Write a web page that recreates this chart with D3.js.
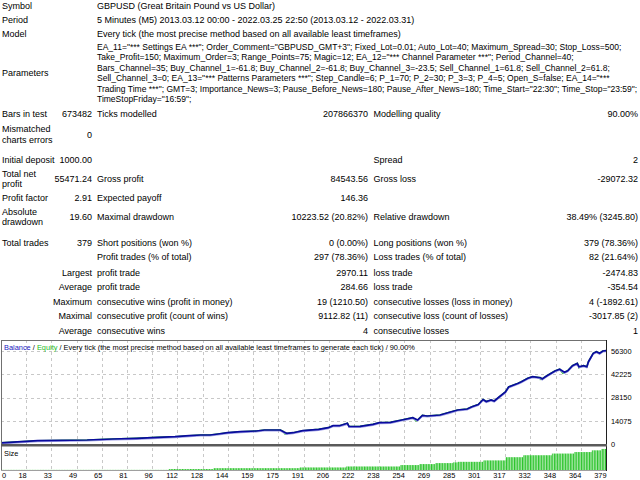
<!DOCTYPE html>
<html><head><meta charset="utf-8">
<script src="https://cdn.jsdelivr.net/npm/d3@7"></script>
<style>
html,body{margin:0;padding:0;background:#fff;}
svg{display:block;}
text{font-family:"Liberation Sans",Arial,sans-serif;fill:#000;}
</style></head><body>
<svg id="c" width="640" height="480"></svg>
<script>
// ---------- DATA ----------
const headerRows = [
  ["Symbol", "GBPUSD (Great Britain Pound vs US Dollar)"],
  ["Period", "5 Minutes (M5) 2013.03.12 00:00 - 2022.03.25 22:50 (2013.03.12 - 2022.03.31)"],
  ["Model", "Every tick (the most precise method based on all available least timeframes)"]
];
const paramLabel = "Parameters";
const paramLines = [
  'EA_11="*** Settings EA ***"; Order_Comment="GBPUSD_GMT+3"; Fixed_Lot=0.01; Auto_Lot=40; Maximum_Spread=30; Stop_Loss=500;',
  'Take_Profit=150; Maximum_Order=3; Range_Points=75; Magic=12; EA_12="*** Channel Parameter ***"; Period_Channel=40;',
  'Bars_Channel=35; Buy_Channel_1=-61.8; Buy_Channel_2=-61.8; Buy_Channel_3=-23.5; Sell_Channel_1=61.8; Sell_Channel_2=61.8;',
  'Sell_Channel_3=0; EA_13="*** Patterns Parameters ***"; Step_Candle=6; P_1=70; P_2=30; P_3=3; P_4=5; Open_S=false; EA_14="***',
  'Trading Time ***"; GMT=3; Importance_News=3; Pause_Before_News=180; Pause_After_News=180; Time_Start="22:30"; Time_Stop="23:59";',
  'TimeStopFriday="16:59";'
];
// [label, value, label2, value2, label3, value3]
const statRows = [
  ["Bars in test", "673482", "Ticks modelled", "207866370", "Modelling quality", "90.00%"],
  ["Mismatched|charts errors", "0", "", "", "", ""],
  ["Initial deposit", "1000.00", "", "", "Spread", "2"],
  ["Total net|profit", "55471.24", "Gross profit", "84543.56", "Gross loss", "-29072.32"],
  ["Profit factor", "2.91", "Expected payoff", "146.36", "", ""],
  ["Absolute|drawdown", "19.60", "Maximal drawdown", "10223.52 (20.82%)", "Relative drawdown", "38.49% (3245.80)"],
  ["Total trades", "379", "Short positions (won %)", "0 (0.00%)", "Long positions (won %)", "379 (78.36%)"],
  ["", "", "Profit trades (% of total)", "297 (78.36%)", "Loss trades (% of total)", "82 (21.64%)"],
  ["", "Largest", "profit trade", "2970.11", "loss trade", "-2474.83"],
  ["", "Average", "profit trade", "284.66", "loss trade", "-354.54"],
  ["", "Maximum", "consecutive wins (profit in money)", "19 (1210.50)", "consecutive losses (loss in money)", "4 (-1892.61)"],
  ["", "Maximal", "consecutive profit (count of wins)", "9112.82 (11)", "consecutive loss (count of losses)", "-3017.85 (2)"],
  ["", "Average", "consecutive wins", "4", "consecutive losses", "1"]
];
const chartTitle = ["Balance", " / ", "Equity", " / Every tick (the most precise method based on all available least timeframes to generate each tick) / 90.00%"];
const xTickLabels = ["0","18","33","49","65","81","96","112","128","144","159","175","191","206","222","238","254","269","285","301","317","332","348","364","379"];
const yTickValues = [0, 14075, 28150, 42225, 56300];
const totalTrades = 379;
// balance: [trade index, balance]
const balance = [
  [0,1000],[23,2290],[54,2710],[70,3310],[85,3730],[98,4330],[109,4700],[118,5300],[125,5720],
  [131,5720],[136,6320],[142,7100],[150,7700],[160,8130],[165,8730],[175,8730],[177,7700],[179,6740],
  [183,7100],[189,8310],[199,9150],[205,10110],[208,11320],[212,11320],[215,12160],[217,12760],[218,10840],
  [225,10960],[233,12160],[237,13120],[244,13370],[251,14750],[258,16140],[261,14750],[264,17580],[267,17160],
  [275,17760],[281,19390],[286,20770],[292,21370],[295,22760],[299,24080],[302,27090],[304,25890],[307,26790],
  [309,26190],[312,28600],[316,31610],[318,34620],[324,36850],[326,37810],[330,39860],[333,40820],[338,40220],
  [339,39440],[342,41420],[347,44250],[350,45280],[353,43470],[355,44430],[358,47440],[361,48890],[362,46840],
  [365,47440],[367,46840],[368,49850],[371,54910],[373,55870],[375,54910],[377,56300],[379,56471]
];
// equity lows visible below the balance line: [trade index, equity]
const equityDips = [
  [178,6300],[260,14300],[338,39300],[352,42900],[362,46300]
];
// lot size steps: [first trade, size]
const sizeSteps = [
  [0,0.01],[105,0.10],[133,0.18],[187,0.25],[216,0.35],[250,0.50],[262,0.60],[272,0.70],
  [283,0.77],[286,0.83],[302,0.97],[316,1.30],[327,1.50],[345,1.67],[359,1.83],[370,2.00],[376,2.15]
];

// ---------- DRAW ----------
const svg = d3.select("#c");
const FS = 9;

const colA = 2, colBend = 92, colC = 97, colDend = 368, colE = 373.5, colFend = 638;
const headerY = [6, 19.5, 33.5];
headerRows.forEach((r, i) => {
  svg.append("text").attr("x", colA).attr("y", headerY[i]).attr("dy", "0.35em").attr("font-size", FS).text(r[0]);
  svg.append("text").attr("x", colC).attr("y", headerY[i]).attr("dy", "0.35em").attr("font-size", FS).text(r[1]);
});
const paramY0 = 47, paramStep = 10.4;
svg.append("text").attr("x", colA).attr("y", paramY0 + paramStep * 2.5).attr("dy", "0.35em").attr("font-size", FS).text(paramLabel);
const pTexts = paramLines.map((l, i) =>
  svg.append("text").attr("x", colC).attr("y", paramY0 + paramStep * i).attr("dy", "0.35em").attr("font-size", FS).text(l));
// fit the first (reference) line to its width in the report, scale all lines alike
const w0 = pTexts[0].node().getComputedTextLength();
const pf = Math.min(1, 525 / w0);
pTexts.forEach(t => t.attr("font-size", FS * pf));
pTexts.forEach(t => {
  const w = t.node().getComputedTextLength();
  if (colC + w > 638) t.attr("textLength", 638 - colC).attr("lengthAdjust", "spacingAndGlyphs");
});

const rowY = [114, 134.5, 160, 179, 198, 217, 243, 257, 272.5, 287, 301.5, 316, 330.5];
statRows.forEach((r, i) => {
  const y = rowY[i];
  if (r[0]) {
    const parts = r[0].split("|");
    parts.forEach((p, k) => {
      const yy = parts.length > 1 ? y + (k === 0 ? -5.2 : 5.2) : y;
      svg.append("text").attr("x", colA).attr("y", yy).attr("dy", "0.35em").attr("font-size", FS).text(p);
    });
  }
  const put = (t, x, anchor) => { if (t) svg.append("text").attr("x", x).attr("y", y).attr("dy", "0.35em").attr("font-size", FS).attr("text-anchor", anchor).text(t); };
  put(r[1], colBend, "end");
  put(r[2], colC, "start");
  put(r[3], colDend, "end");
  put(r[4], colE, "start");
  put(r[5], colFend, "end");
});

// ---------- CHART ----------
const L = 1, R = 606, T = 340, B = 444.5, ST = 446.5, SB = 470;
const x = d3.scaleLinear().domain([0, totalTrades]).range([L, R]);
const y = d3.scaleLinear().domain([0, 56300]).range([B, 351]);
const ys = d3.scaleLinear().domain([0, 2.4]).range([SB, ST]);

const g = svg.append("g");
const gridX = d3.range(1, 24).map(k => k * totalTrades / 24);
gridX.forEach(v => {
  const px = Math.round(x(v)) + 0.5;
  g.append("line").attr("x1", px).attr("x2", px).attr("y1", T).attr("y2", SB)
    .attr("stroke", "#c8c8c8").attr("stroke-width", 1).attr("stroke-dasharray", "3,3");
});
yTickValues.slice(1).forEach(v => {
  const py = Math.round(y(v)) + 0.5;
  g.append("line").attr("x1", L).attr("x2", R).attr("y1", py).attr("y2", py)
    .attr("stroke", "#c8c8c8").attr("stroke-width", 1).attr("stroke-dasharray", "3,3");
});

const sizes = d3.range(totalTrades).map(i => {
  let s = 0;
  sizeSteps.forEach(st => { if (i >= st[0]) s = st[1]; });
  return s;
});
const bars = g.append("g");
sizes.forEach((s, i) => {
  const x0 = x(i), x1 = x(i + 1);
  bars.append("rect").attr("x", x0).attr("width", x1 - x0).attr("y", ys(s)).attr("height", SB - ys(s)).attr("fill", "#a3e6a3");
  bars.append("rect").attr("x", x1 - 0.9).attr("width", 0.9).attr("y", ys(s)).attr("height", SB - ys(s)).attr("fill", "#21c021");
});

const equity = balance.concat(equityDips).sort((a, b) => a[0] - b[0] || b[1] - a[1]);
const line = d3.line().x(d => x(d[0])).y(d => y(d[1]));
g.append("path").datum(equity).attr("d", line).attr("fill", "none").attr("stroke", "#2fc02f").attr("stroke-width", 1.6);
g.append("path").datum(balance).attr("d", line).attr("fill", "none").attr("stroke", "#9d9de6").attr("stroke-width", 1.2).attr("transform", "translate(0,1)");
g.append("path").datum(balance).attr("d", line).attr("fill", "none").attr("stroke", "#0a0a9e").attr("stroke-width", 1.7);

g.append("line").attr("x1", L).attr("x2", R).attr("y1", T + 0.5).attr("y2", T + 0.5).attr("stroke", "#707070");
g.append("line").attr("x1", L + 0.5).attr("x2", L + 0.5).attr("y1", T).attr("y2", SB).attr("stroke", "#707070");
g.append("line").attr("x1", R + 0.5).attr("x2", R + 0.5).attr("y1", T).attr("y2", SB + 1).attr("stroke", "#202020");
g.append("rect").attr("x", L).attr("y", B - 0.5).attr("width", R - L + 1).attr("height", 2.5).attr("fill", "#5a5a5a");
g.append("line").attr("x1", L).attr("x2", R).attr("y1", SB + 0.5).attr("y2", SB + 0.5).attr("stroke", "#a0a0a0");

const SF = 7.4;
const tt = svg.append("text").attr("x", 4).attr("y", 347.5).attr("dy", "0.35em").attr("font-size", SF);
const titleColors = ["#2020c0", "#000", "#22bb22", "#000"];
chartTitle.forEach((t, i) => tt.append("tspan").style("fill", titleColors[i]).text(t));
svg.append("text").attr("x", 4).attr("y", 453.5).attr("dy", "0.35em").attr("font-size", SF).text("Size");

yTickValues.forEach(v => {
  svg.append("text").attr("x", 611).attr("y", y(v)).attr("dy", "0.35em").attr("font-size", SF).text(String(v));
});
xTickLabels.forEach((t, k) => {
  const px = x(k * totalTrades / 24);
  const el = svg.append("text").attr("y", 475.5).attr("dy", "0.35em").attr("font-size", SF).text(t);
  if (k === 0) el.attr("x", 2).attr("text-anchor", "start");
  else el.attr("x", px + 0.5).attr("text-anchor", "end");
});
</script>
</body></html>
